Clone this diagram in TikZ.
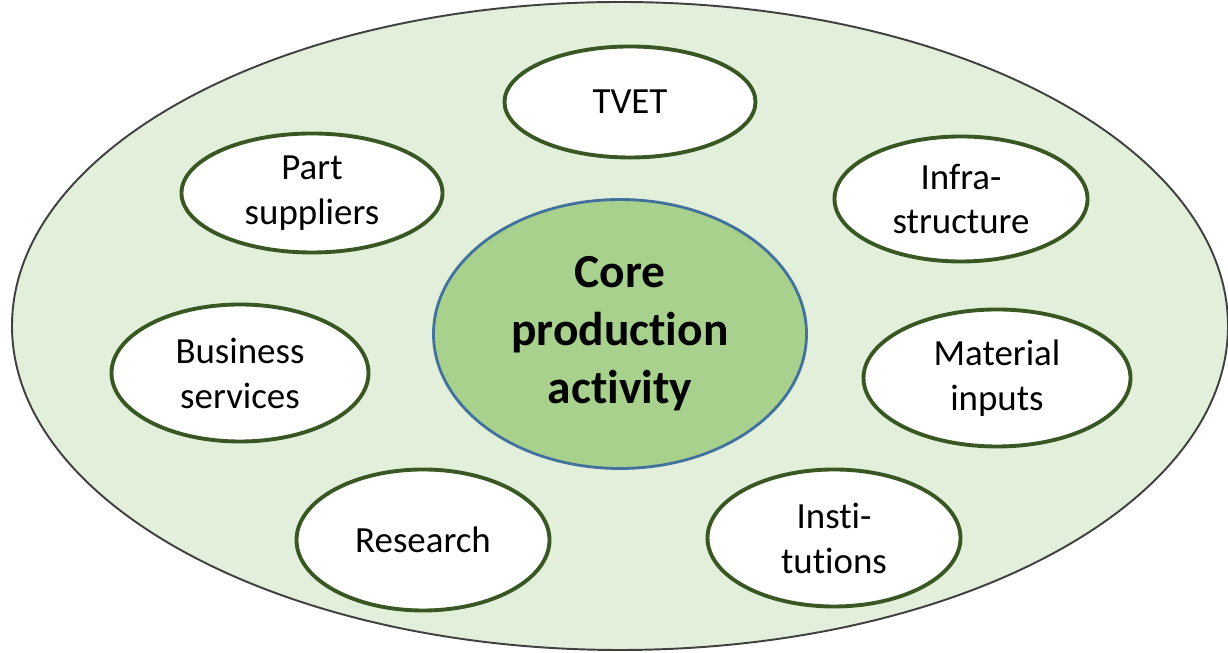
\documentclass[tikz,border=0pt]{standalone}
\usepackage{fontspec}
\setmainfont{Carlito}[RawFeature={-liga;-clig}]
\usetikzlibrary{shapes.geometric}
\definecolor{outerfill}{HTML}{E2EFDA}
\definecolor{corefill}{HTML}{A9D18E}
\definecolor{coreline}{HTML}{41719C}
\definecolor{partline}{HTML}{385723}
% break the t-i ligature of Carlito
\newcommand{\nolig}{\kern0pt{}}

\begin{document}
\begin{tikzpicture}[
    part/.style={ellipse, draw=partline, line width=2.2pt, fill=white, inner sep=0pt, align=center,
        font=\fontsize{21}{25.6}\selectfont},
    core/.style={ellipse, draw=coreline, line width=1.6pt, fill=corefill, inner sep=0pt, align=center,
        font=\fontsize{27}{33}\selectfont\bfseries}]
    \useasboundingbox (0,0) rectangle (24.56,13.06);

    \draw[line width=1.1pt, draw=black!75, fill=outerfill] (12.40,6.54) ellipse (12.16 and 6.48);

    \node[core, minimum width=7.46cm, minimum height=5.38cm] (core) at (12.40,6.38) {Core\\production\\act\nolig ivity};

    \node[part, minimum width=5.02cm, minimum height=2.22cm] (tvet) at (12.60,11.02) {TVET};
    \node[part, minimum width=5.22cm, minimum height=2.38cm] (parts) at (6.24,9.20) {Part\\suppliers};
    \node[part, minimum width=5.06cm, minimum height=2.50cm] (infra) at (19.22,9.08) {Infra-\\structure};
    \node[part, minimum width=5.14cm, minimum height=2.74cm] (business) at (4.80,5.60) {Business\\services};
    \node[part, minimum width=5.34cm, minimum height=2.74cm] (material) at (19.94,5.50) {Material\\inputs};
    \node[part, minimum width=5.06cm, minimum height=2.82cm] (research) at (8.46,2.26) {Research};
    \node[part, minimum width=5.06cm, minimum height=2.74cm] (institutions) at (16.68,2.30) {Insti-\\tut\nolig ions};

\end{tikzpicture}
\end{document}
